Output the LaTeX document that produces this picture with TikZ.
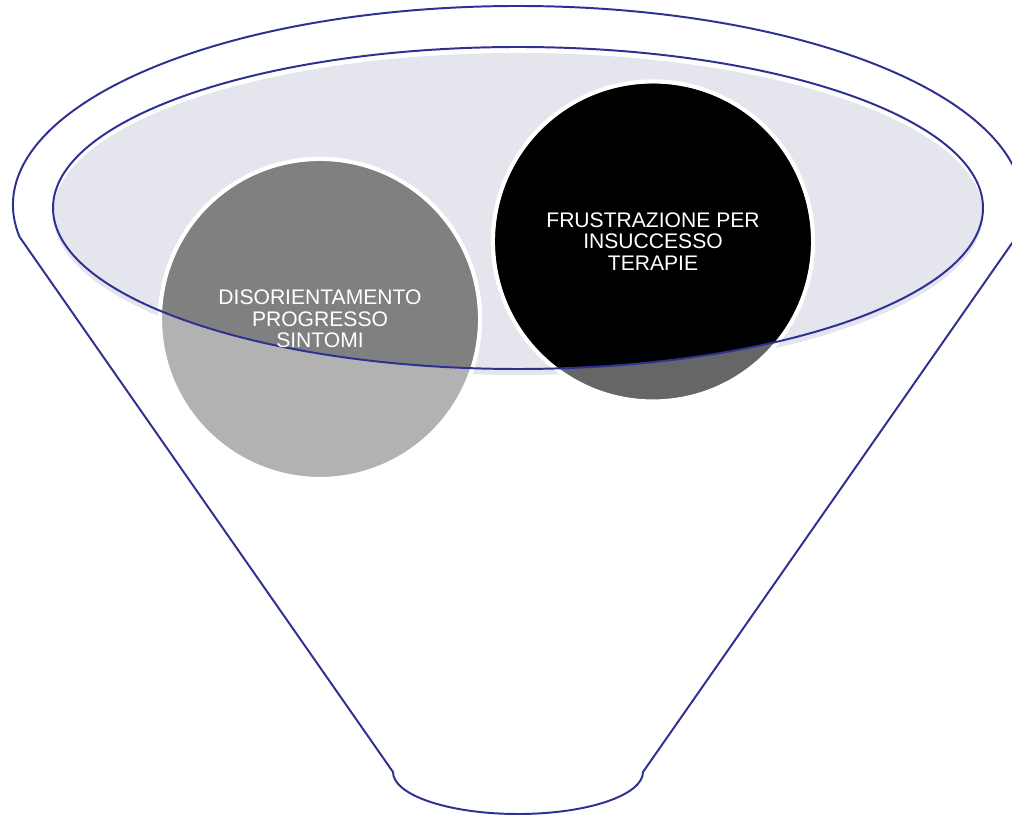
\documentclass[tikz,border=0pt]{standalone}
\usepackage{fontspec}
\setmainfont{Liberation Sans}
\usepackage{xcolor}
\usepackage{tikz}
\definecolor{funnelblue}{HTML}{2E3192}
\definecolor{rimfill}{HTML}{E4E5ED}

\begin{document}
\begin{tikzpicture}[x=0.025cm, y=0.025cm,
    funnelline/.style={draw=funnelblue, line width=1.4pt, line join=round},
    bubble/.style={circle, minimum size=8cm, inner sep=0pt, draw=white, line width=3pt},
    bubbletext/.style={align=center, text=white, inner sep=0pt,
        font=\fontsize{15}{15.4}\selectfont}]
    \useasboundingbox (0,0) rectangle (1012,816);

    % 1. Fondo chiaro della bocca dell'imbuto (leggermente spostato)
    \fill[rimfill] (518,602) ellipse [x radius=465, y radius=161];

    % 2. I due cerchi
    \node[bubble, fill=gray!60] (sintomi) at (320,497) {};
    \node[bubble, fill=black!60] (terapie) at (653,574.5) {};

    % 3. Parte scura dei cerchi dentro la bocca
    \begin{scope}
        \clip (518,608) ellipse [x radius=465, y radius=161];
        \fill[gray] (sintomi.center) circle [radius=157.8];
        \fill[black] (terapie.center) circle [radius=157.8];
    \end{scope}

    % 4. Bordo della bocca
    \draw[funnelline] (518,608) ellipse [x radius=465, y radius=161];

    % 5. Profilo dell'imbuto
    \draw[funnelline] (19.5,579.2)
        arc [start angle=189.2, end angle=-9.2, x radius=505, y radius=199]
        -- (643,44)
        arc [start angle=0, end angle=-180, x radius=125, y radius=42]
        -- cycle;

    % 6. Testi
    \node[bubbletext] (sintomilabel) at (sintomi.center) {DISORIENTAMENTO\\PROGRESSO\\SINTOMI};
    \node[bubbletext] (terapielabel) at (terapie.center) {FRUSTRAZIONE PER\\INSUCCESSO\\TERAPIE};
\end{tikzpicture}
\end{document}
